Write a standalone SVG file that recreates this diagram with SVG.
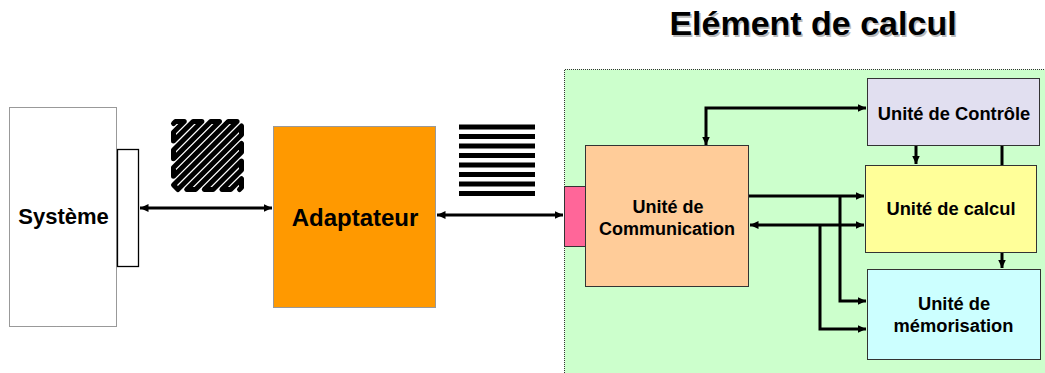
<svg xmlns="http://www.w3.org/2000/svg" width="1045" height="373" viewBox="0 0 1045 373">
  <style>
    .lbl { font-family: "Liberation Sans", Arial, sans-serif; font-weight: bold; fill: #000; text-anchor: middle; }
    .box { stroke: #333; stroke-width: 1; }
    .wire { fill: none; stroke: #000; stroke-width: 3; }
    .dotted { fill: none; stroke: #333; stroke-width: 1; stroke-dasharray: 1 1; }
  </style>
  <defs>
    <marker id="head" markerUnits="userSpaceOnUse" markerWidth="9" markerHeight="8" refX="8.5" refY="4" orient="auto-start-reverse">
      <path d="M0,0 L8.5,4 L0,8 Z" fill="#000"/>
    </marker>
  </defs>

  <rect width="1045" height="373" fill="#fff"/>

  <!-- title with soft drop shadow -->
  <g id="title">
    <text x="814.5" y="36.5" class="lbl" font-size="34" style="fill:#bbb">Elément de calcul</text>
    <text x="813" y="35" class="lbl" font-size="34">Elément de calcul</text>
  </g>

  <!-- compute element background -->
  <g id="element">
    <rect x="564.5" y="69.5" width="490" height="310" fill="#CCFFCC"/>
    <path d="M564.5,373 V69.5 H1045" class="dotted"/>
  </g>

  <!-- system -->
  <g id="systeme">
    <rect x="9.5" y="107.5" width="107" height="219" fill="#fff" class="dotted"/>
    <text x="63.5" y="223.5" class="lbl" font-size="22">Système</text>
  </g>
  <g id="port-systeme">
    <rect x="117.5" y="149.5" width="21" height="117" fill="#fff" stroke="#000" stroke-width="1.3"/>
  </g>

  <!-- serial (hatched) signal symbol -->
  <g id="signal-serie" transform="translate(170,118)">
    <path d="M3.5,5.5 L5.5,3.5 L14.3,3.5 L3.5,14.3 L3.5,23.1 L23.1,3.5 L31.9,3.5 L3.5,31.9 L3.5,40.7 L40.7,3.5 L49.5,3.5 L3.5,49.5 L3.5,58.3 L58.3,3.5 L67.1,3.5 L3.5,67.1 L7.9,71.5 L71.5,7.9 L71.5,16.7 L16.7,71.5 L25.5,71.5 L71.5,25.5 L71.5,34.3 L34.3,71.5 L43.1,71.5 L71.5,43.1 L71.5,51.9 L51.9,71.5 L60.7,71.5 L71.5,60.7 L71.5,69.5 L69.5,71.5"
          fill="none" stroke="#000" stroke-width="5" stroke-linejoin="round" stroke-linecap="round"/>
  </g>

  <!-- adapter -->
  <g id="adaptateur">
    <rect x="273.5" y="126.5" width="162" height="181" fill="#FF9900" stroke="#999" stroke-width="1"/>
    <text x="355" y="225.5" class="lbl" font-size="24">Adaptateur</text>
  </g>

  <!-- parallel (bars) signal symbol -->
  <g id="signal-parallele" fill="#000">
    <rect x="459" y="124.5" width="76" height="5"/>
    <rect x="459" y="134" width="76" height="5"/>
    <rect x="459" y="143.5" width="76" height="5"/>
    <rect x="459" y="153" width="76" height="5"/>
    <rect x="459" y="162.5" width="76" height="5"/>
    <rect x="459" y="172" width="76" height="5"/>
    <rect x="459" y="181.5" width="76" height="5"/>
    <rect x="459" y="191" width="76" height="5"/>
  </g>

  <!-- communication port -->
  <g id="port-communication">
    <rect x="564.5" y="186.5" width="21" height="60" fill="#FF6699" stroke="#333" stroke-width="1"/>
  </g>

  <g id="communication">
    <rect x="585.5" y="145.5" width="163" height="141" fill="#FFCC99" class="box"/>
    <text x="668" y="212.5" class="lbl" font-size="18">Unité de</text>
    <text x="667" y="235" class="lbl" font-size="18">Communication</text>
  </g>

  <g id="controle">
    <rect x="867.5" y="78.5" width="172" height="67" fill="#E1DFF0" class="box"/>
    <text x="954" y="120" class="lbl" font-size="18.3">Unité de Contrôle</text>
  </g>

  <g id="calcul">
    <rect x="865.5" y="165.5" width="171" height="87" fill="#FFFF99" class="box"/>
    <text x="951" y="215" class="lbl" font-size="18.3">Unité de calcul</text>
  </g>

  <g id="memorisation">
    <rect x="867.5" y="269.5" width="173" height="90" fill="#CCFFFF" class="box"/>
    <text x="954" y="310" class="lbl" font-size="18.3">Unité de</text>
    <text x="953.5" y="332" class="lbl" font-size="18.3">mémorisation</text>
  </g>

  <!-- connectors -->
  <g id="connectors">
    <path d="M140,208 H272" class="wire" marker-start="url(#head)" marker-end="url(#head)"/>
    <path d="M437,215 H563" class="wire" marker-start="url(#head)" marker-end="url(#head)"/>
    <path d="M706,145 V108 H866" class="wire" marker-start="url(#head)" marker-end="url(#head)"/>
    <path d="M916,146 V164" class="wire" marker-end="url(#head)"/>
    <path d="M1002,146 V165" class="wire"/>
    <path d="M1002,253 V268" class="wire" marker-end="url(#head)"/>
    <path d="M749,196 H864" class="wire" marker-end="url(#head)"/>
    <path d="M840,196 V301 H866" class="wire" marker-end="url(#head)"/>
    <path d="M750,225 H864" class="wire" marker-start="url(#head)" marker-end="url(#head)"/>
    <path d="M820,225 V329 H866" class="wire" marker-end="url(#head)"/>
  </g>
</svg>
